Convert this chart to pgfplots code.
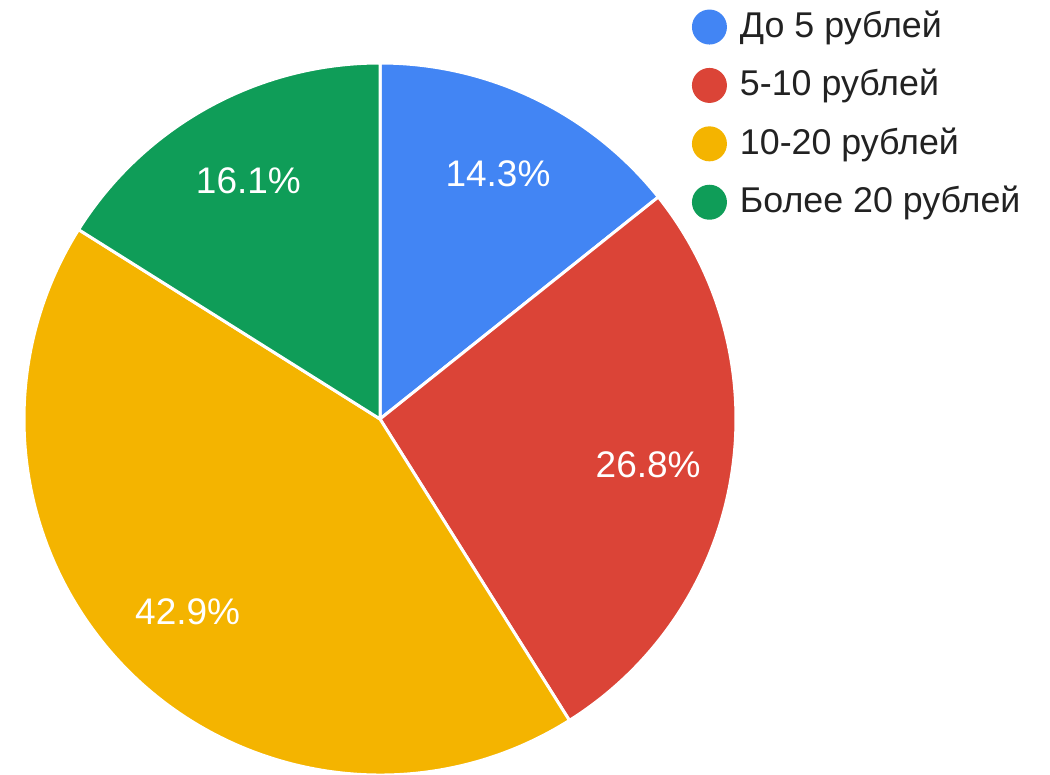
\documentclass[border=0pt]{standalone}
\usepackage{pgfplots}
\pgfplotsset{compat=1.18}
\usepackage{pgfplotstable}
\usepackage{fontspec}
\setmainfont{Liberation Sans}
\definecolor{c0}{HTML}{4285F4}
\definecolor{c1}{HTML}{DB4437}
\definecolor{c2}{HTML}{F4B400}
\definecolor{c3}{HTML}{0F9D58}
\definecolor{legtext}{HTML}{222222}

\pgfplotstableread[col sep=comma]{
name,value
До 5 рублей,8
5-10 рублей,15
10-20 рублей,24
Более 20 рублей,9
}\piedata

\pgfkeys{/pgf/number format/.cd, fixed, precision=1, fixed zerofill, assume math mode=true}

\begin{document}
\begin{tikzpicture}
\def\total{0}
\pgfplotsforeachungrouped \i in {0,...,3}{%
  \pgfplotstablegetelem{\i}{value}\of\piedata
  \pgfmathsetmacro\total{\total+\pgfplotsretval}}
\begin{axis}[
  width=525pt, height=387.5pt, scale only axis,
  xmin=0, xmax=1050, ymin=0, ymax=775,
  hide axis, clip=false,
  legend image code/.code={%
    \path[fill=none, draw=none] (0pt,-8pt) rectangle (17.5pt,14pt);
    \fill[#1] (8.75pt,0.75pt) circle[radius=8.75pt];},
  legend cell align=left,
  legend style={at={(0.659,0.9993)}, anchor=north west, draw=none, fill=none,
    inner sep=0pt, outer sep=0pt, row sep=7.2pt, column sep=6.5pt,
    font=\fontsize{17.9}{20}\selectfont, text=legtext,
    nodes={inner sep=0pt, text height=12.5pt, text depth=3.5pt}},
]
\def\cum{0}
\pgfplotsforeachungrouped \i in {0,...,3}{%
  \pgfplotstablegetelem{\i}{value}\of\piedata
  \let\v\pgfplotsretval
  \pgfmathsetmacro\a{90-\cum/\total*360}
  \pgfmathsetmacro\b{90-(\cum+\v)/\total*360}
  \pgfmathsetmacro\m{(\a+\b)/2}
  \pgfmathsetmacro\pct{\v/\total*100}
  \pgfmathprintnumberto{\pct}{\pcttxt}
  \edef\temp{%
    \noexpand\fill[fill=c\i, draw=white, line width=1.5pt, line join=round]
      (axis cs:380,356) -- ++(\a:178pt) arc[start angle=\a, end angle=\b, radius=178pt] -- cycle;
    \noexpand\path (axis cs:380,356) ++(\m:136pt) node[text=white,
      font=\noexpand\fontsize{18.5}{20}\noexpand\selectfont]
      {\unexpanded\expandafter{\pcttxt}\noexpand\%};
    \noexpand\addlegendimage{fill=c\i, draw=none}
  }\temp
  \pgfplotstablegetelem{\i}{name}\of\piedata
  \addlegendentryexpanded{\pgfplotsretval}
  \pgfmathsetmacro\cum{\cum+\v}
}
\end{axis}
\pgfresetboundingbox
\useasboundingbox (0,0) rectangle (525pt,387.5pt);
\end{tikzpicture}
\end{document}
